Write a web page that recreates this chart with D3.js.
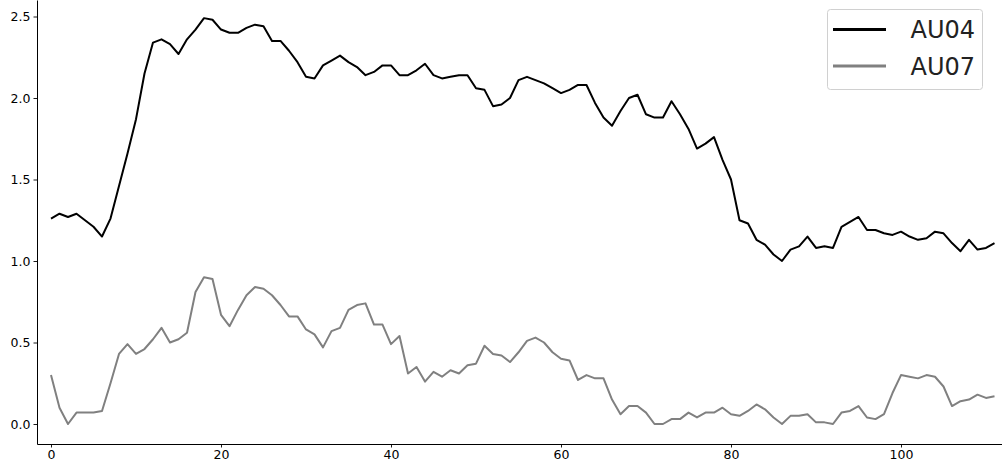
<!DOCTYPE html>
<html>
<head>
<meta charset="utf-8">
<script src="https://cdn.jsdelivr.net/npm/d3@7"></script>
<style>
  html, body { margin: 0; padding: 0; background: #fff; }
  svg { display: block; }
  text { font-family: "DejaVu Sans", sans-serif; }
</style>
</head>
<body>
<svg id="chart" width="1002" height="470"></svg>
<script>
const seriesNames = ["AU04", "AU07"];
const au04 = [1.26, 1.29, 1.27, 1.29, 1.25, 1.21, 1.15, 1.26, 1.46, 1.66, 1.87, 2.15, 2.34, 2.36, 2.33, 2.27,
  2.36, 2.42, 2.49, 2.48, 2.42, 2.40, 2.40, 2.43, 2.45, 2.44, 2.35, 2.35, 2.29, 2.22, 2.13, 2.12,
  2.20, 2.23, 2.26, 2.22, 2.19, 2.14, 2.16, 2.20, 2.20, 2.14, 2.14, 2.17, 2.21, 2.14, 2.12, 2.13,
  2.14, 2.14, 2.06, 2.05, 1.95, 1.96, 2.00, 2.11, 2.13, 2.11, 2.09, 2.06, 2.03, 2.05, 2.08, 2.08,
  1.97, 1.88, 1.83, 1.92, 2.00, 2.02, 1.90, 1.88, 1.88, 1.98, 1.90, 1.81, 1.69, 1.72, 1.76, 1.62,
  1.50, 1.25, 1.23, 1.13, 1.10, 1.04, 1.00, 1.07, 1.09, 1.15, 1.08, 1.09, 1.08, 1.21, 1.24, 1.27,
  1.19, 1.19, 1.17, 1.16, 1.18, 1.15, 1.13, 1.14, 1.18, 1.17, 1.11, 1.06, 1.13, 1.07, 1.08, 1.11];
const au07 = [0.30, 0.10, 0.00, 0.07, 0.07, 0.07, 0.08, 0.25, 0.43, 0.49, 0.43, 0.46, 0.52, 0.59, 0.50, 0.52,
  0.56, 0.81, 0.90, 0.89, 0.67, 0.60, 0.70, 0.79, 0.84, 0.83, 0.79, 0.73, 0.66, 0.66, 0.58, 0.55,
  0.47, 0.57, 0.59, 0.70, 0.73, 0.74, 0.61, 0.61, 0.49, 0.54, 0.31, 0.35, 0.26, 0.32, 0.29, 0.33,
  0.31, 0.36, 0.37, 0.48, 0.43, 0.42, 0.38, 0.44, 0.51, 0.53, 0.50, 0.44, 0.40, 0.39, 0.27, 0.30,
  0.28, 0.28, 0.15, 0.06, 0.11, 0.11, 0.07, 0.00, 0.00, 0.03, 0.03, 0.07, 0.04, 0.07, 0.07, 0.10,
  0.06, 0.05, 0.08, 0.12, 0.09, 0.04, 0.00, 0.05, 0.05, 0.06, 0.01, 0.01, 0.00, 0.07, 0.08, 0.11,
  0.04, 0.03, 0.06, 0.19, 0.30, 0.29, 0.28, 0.30, 0.29, 0.23, 0.11, 0.14, 0.15, 0.18, 0.16, 0.17];
const xTicks = [0, 20, 40, 60, 80, 100];
const yTicks = [0.0, 0.5, 1.0, 1.5, 2.0, 2.5];
const colors = ["#000000", "#808080"];

(function () {
const svg = d3.select("#chart");
const mLeft = 37, mRight = 1002, mTop = 0, mBottom = 444;

const x = d3.scaleLinear().domain([-14 / 8.5, 951 / 8.5]).range([mLeft, mRight]);
const y = d3.scaleLinear().domain([-20 / 163, 424 / 163]).range([mBottom, mTop]);

const gx = svg.append("g").attr("transform", `translate(0,${mBottom})`)
  .call(d3.axisBottom(x).tickValues(xTicks).tickFormat(d3.format("d")).tickSize(3.5).tickSizeOuter(0).tickPadding(3));
const gy = svg.append("g").attr("transform", `translate(${mLeft},0)`)
  .call(d3.axisLeft(y).tickValues(yTicks).tickFormat(d3.format(".1f")).tickSize(3.5).tickSizeOuter(0).tickPadding(3));
[gx, gy].forEach(g => {
  g.selectAll("text").attr("font-family", "DejaVu Sans, sans-serif").attr("font-size", "12.5px").attr("fill", "#000");
  g.selectAll("line").attr("stroke", "#000").attr("stroke-width", 0.9);
  g.select(".domain").attr("stroke", "#000").attr("stroke-width", 1);
});

const line = d3.line().x((d, i) => x(i)).y(d => y(d));
[au04, au07].forEach((s, k) => {
  svg.append("path").datum(s)
    .attr("d", line)
    .attr("fill", "none")
    .attr("stroke", colors[k])
    .attr("stroke-width", 2)
    .attr("stroke-linejoin", "round");
});

// legend
const lg = svg.append("g");
lg.append("rect").attr("x", 827.5).attr("y", 9.5).attr("width", 155).attr("height", 80)
  .attr("rx", 3).attr("fill", "#fff").attr("fill-opacity", 0.8)
  .attr("stroke", "#d0d0d0").attr("stroke-width", 1);
const lgY = [29.5, 66];
seriesNames.forEach((n, k) => {
  lg.append("line").attr("x1", 833).attr("x2", 886).attr("y1", lgY[k]).attr("y2", lgY[k])
    .attr("stroke", colors[k]).attr("stroke-width", 3);
  lg.append("text").attr("x", 975).attr("y", lgY[k] + 8.8).attr("text-anchor", "end")
    .attr("font-size", "24px").attr("fill", "#222").text(n);
});
})();
</script>
</body>
</html>
